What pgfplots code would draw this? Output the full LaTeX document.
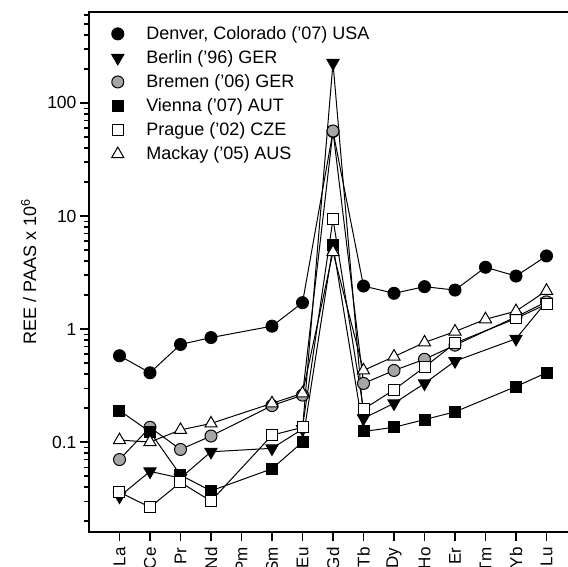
\documentclass[border=0pt]{standalone}
\usepackage{pgfplots}
\pgfplotsset{compat=1.18}
\usepackage{fontspec}
\setmainfont{Liberation Sans}
\begin{document}
\begin{tikzpicture}
\begin{axis}[
 name=ax,
 scale only axis,
 width=488pt, height=520pt,
 xmin=-1, xmax=15,
 ymode=log, ymin=0.016, ymax=638,
 xtick={0,...,14},
 xticklabels={La,Ce,Pr,Nd,Pm,Sm,Eu,Gd,Tb,Dy,Ho,Er,Tm,Yb,Lu},
 x tick label style={rotate=90, anchor=east, font=\fontsize{17}{17}\selectfont},
 xticklabel shift=3pt,
 ytick={0.1,1,10,100},
 yticklabels={0.1,1,10,100},
 minor ytick={0.02,0.03,0.04,0.05,0.06,0.07,0.08,0.09,0.2,0.3,0.4,0.5,0.6,0.7,0.8,0.9,2,3,4,5,6,7,8,9,20,30,40,50,60,70,80,90,200,300,400,500,600},
 y tick label style={font=\fontsize{17.5}{17.5}\selectfont},
 tick align=outside,
 tick pos=left,
 major tick length=9pt, minor tick length=5pt,
 axis line style={line width=1.5pt},
 every tick/.style={black, line width=1.2pt},
 ylabel={REE / PAAS x 10\textsuperscript{6}},
 ylabel style={font=\fontsize{18}{18}\selectfont},
 ylabel shift=4pt,
 clip=false,
 /pgf/number format/assume math mode=true,
 legend style={at={(0.035,0.98)}, anchor=north west, draw=none, fill=none,
   font=\fontsize{18}{20}\selectfont, row sep=5.5pt},
 legend cell align=left,
 legend image code/.code={\path (-8pt,0pt) (26pt,0pt); \draw[#1] plot[only marks] coordinates {(0pt,0pt)};},
 every axis plot/.append style={black, line width=1pt},
]
\addplot[mark=*, mark size=6pt, mark options={fill=black}] coordinates {
(0,0.58)(1,0.41)(2,0.73)(3,0.84)(5,1.06)(6,1.71)(7,56)(8,2.4)(9,2.07)(10,2.37)(11,2.21)(12,3.52)(13,2.94)(14,4.43)};
\addlegendentry{Denver, Colorado ('07) USA}
\addplot[mark=triangle*, mark size=7pt, mark options={rotate=180, fill=black}] coordinates {
(0,0.033)(1,0.055)(2,0.048)(3,0.082)(5,0.088)(6,0.13)(7,226)(8,0.162)(9,0.22)(10,0.33)(11,0.52)(13,0.82)(14,1.75)};
\addlegendentry{Berlin ('96) GER}
\addplot[mark=*, mark size=6pt, mark options={fill=black!35}] coordinates {
(0,0.070)(1,0.135)(2,0.086)(3,0.113)(5,0.21)(6,0.26)(7,56.5)(8,0.33)(9,0.43)(10,0.54)(11,0.72)(13,1.28)(14,1.74)};
\addlegendentry{Bremen ('06) GER}
\addplot[mark=square*, mark size=5.5pt, mark options={fill=black}] coordinates {
(0,0.19)(1,0.123)(2,0.051)(3,0.037)(5,0.058)(6,0.10)(7,5.5)(8,0.124)(9,0.135)(10,0.158)(11,0.185)(13,0.31)(14,0.41)};
\addlegendentry{Vienna ('07) AUT}
\addplot[mark=square*, mark size=5.5pt, mark options={fill=white}] coordinates {
(0,0.036)(1,0.0265)(2,0.044)(3,0.030)(5,0.115)(6,0.135)(7,9.4)(8,0.195)(9,0.29)(10,0.46)(11,0.75)(13,1.24)(14,1.66)};
\addlegendentry{Prague ('02) CZE}
\addplot[mark=triangle*, mark size=7pt, mark options={fill=white}] coordinates {
(0,0.104)(1,0.10)(2,0.128)(3,0.146)(5,0.22)(6,0.27)(7,4.8)(8,0.43)(9,0.57)(10,0.76)(11,0.95)(12,1.22)(13,1.44)(14,2.18)};
\addlegendentry{Mackay ('05) AUS}
\end{axis}
\pgfresetboundingbox
\path[use as bounding box] ([xshift=-89pt,yshift=-35pt]ax.south west) rectangle ([xshift=479pt,yshift=12pt]ax.north west);
\end{tikzpicture}
\end{document}
